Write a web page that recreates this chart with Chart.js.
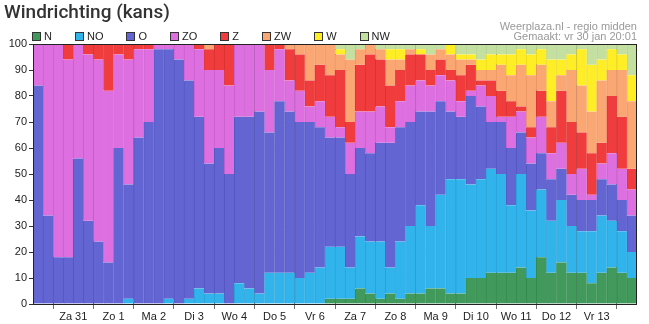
<!DOCTYPE html>
<html>
<head>
<meta charset="utf-8">
<script src="https://cdn.jsdelivr.net/npm/chart.js@4.4.1/dist/chart.umd.min.js"></script>
<style>
  html, body { margin: 0; padding: 0; background: #fff; }
  #wrap { position: relative; width: 649px; height: 324px; font-family: "Liberation Sans", Arial, sans-serif; }
  #title { position: absolute; left: 4px; top: 2px; font: 500 19px/19px Roboto, sans-serif; color: #333; white-space: nowrap; }
  #legend { position: absolute; left: 32px; top: 31px; height: 11px; display: flex; align-items: center; }
  #legend .item { display: flex; align-items: center; margin-right: 23px; font-size: 11px; line-height: 11px; color: #222; }
  #legend .box { width: 9px; height: 9px; box-sizing: border-box; border: 1px solid #333; margin-right: 3px; }
  #credits { position: absolute; right: 12px; top: 21px; text-align: right; font-size: 11px; line-height: 10px; color: #999; }
  #chart { position: absolute; left: 0; top: 0; }
</style>
</head>
<body>
<div id="wrap">
  <canvas id="chart" width="649" height="324"></canvas>
  <div id="title">Windrichting (kans)</div>
  <div id="legend"></div>
  <div id="credits">Weerplaza.nl - regio midden<br>Gemaakt: vr 30 jan 20:01</div>
</div>
<script>
// kans per windrichting (%), 6-uurlijks, vanaf vr 30 jan
const N  = [0,0,0,0,0,0,0,0,0,0, 0,0,0,0,0,0,0,0,0,0, 0,0,0,0,0,0,0,0,0,2, 2,2,6,4,2,4,2,4,4,6, 6,4,4,10,10,12,12,12,14,10, 18,12,16,12,12,8,12,14,12,10];
const NO = [0,0,0,0,0,0,0,0,0,2, 0,0,0,2,0,2,6,4,4,0, 8,6,4,12,12,12,10,12,14,20, 20,12,20,20,22,10,22,26,34,24, 36,44,44,36,38,40,38,26,36,26, 26,20,24,18,16,20,22,18,16,10];
const O  = [84,34,18,18,56,32,24,16,60,44, 64,70,98,96,94,84,66,50,56,50, 64,66,70,54,66,62,60,58,54,42, 42,36,34,34,38,48,44,40,36,44, 36,26,24,34,28,18,20,22,16,18, 14,16,12,12,12,12,14,14,12,14];
const ZO = [16,66,82,76,44,64,70,66,36,48, 34,28,2,2,6,14,26,36,30,34, 28,28,26,24,20,12,12,6,10,8, 4,12,14,16,14,6,10,14,12,10, 10,12,6,2,8,10,2,12,8,10, 14,10,10,8,12,2,6,12,12,10];
const Z  = [0,0,0,6,0,4,6,18,4,6, 2,2,0,0,0,0,2,8,10,16, 0,0,0,10,2,12,14,10,14,16, 22,8,18,22,18,16,12,12,10,6, 6,4,10,10,2,6,10,6,2,4, 10,10,20,20,14,16,8,22,20,8];
const ZW = [0,0,0,0,0,0,0,0,0,0, 0,0,0,0,0,0,0,2,0,0, 0,0,0,0,0,2,4,14,8,12, 6,24,6,4,4,10,4,2,0,6, 4,6,6,2,4,4,10,10,16,20, 10,10,6,20,18,16,24,10,18,26];
const W  = [0,0,0,0,0,0,0,0,0,0, 0,0,0,0,0,0,0,0,0,0, 0,0,0,0,0,0,0,0,0,0, 2,0,0,0,0,4,4,0,2,0, 0,4,2,2,4,6,4,8,6,8, 6,16,6,6,14,18,8,8,6,10];
const NW = [0,0,0,0,0,0,0,0,0,0, 0,0,0,0,0,0,0,0,0,0, 0,0,0,0,0,0,0,0,0,0, 2,6,2,0,2,2,2,2,2,4, 2,0,4,4,6,4,4,4,2,4, 2,6,6,4,2,8,6,2,4,12];

const directions = ['N', 'NO', 'O', 'ZO', 'Z', 'ZW', 'W', 'NW'];
const seriesValues = [N, NO, O, ZO, Z, ZW, W, NW];
const dayLabels = ['Za 31', 'Zo 1', 'Ma 2', 'Di 3', 'Wo 4', 'Do 5', 'Vr 6', 'Za 7', 'Zo 8', 'Ma 9', 'Di 10', 'Wo 11', 'Do 12', 'Vr 13'];
const yTicks = [0, 10, 20, 30, 40, 50, 60, 70, 80, 90, 100];

const fills   = ['#419a5b', '#31b4ec', '#6365d3', '#de6fe0', '#f03c3c', '#fba774', '#ffee26', '#c3e0a0'];
const borders = ['#378a4f', '#2aa2d6', '#5557c2', '#cc5fce', '#dc3232', '#ec9865', '#ecdb1c', '#b2d090'];

const nBars = N.length;
const firstDay = 2;     // eerste twee balken horen bij vr 30
const perDay = 4;

// tick posities: daggrenzen (lijnen) en dagmiddens (labels)
const xTicks = [];
for (let v = firstDay; v <= nBars; v += perDay / 2) xTicks.push(v);
const isBoundary = v => (v - firstDay) % perDay === 0;

// legenda
const legendEl = document.getElementById('legend');
directions.forEach((d, i) => {
  const item = document.createElement('div');
  item.className = 'item';
  item.innerHTML = '<span class="box" style="background:' + fills[i] + '"></span>' + d;
  legendEl.appendChild(item);
});

const frame = {
  id: 'frame',
  afterDraw(chart) {
    const a = chart.chartArea, c = chart.ctx;
    c.save();
    c.strokeStyle = '#222';
    c.lineWidth = 1;
    c.strokeRect(a.left + 0.5, a.top + 0.5, a.right - a.left - 1, a.bottom - a.top);
    c.restore();
  }
};

Chart.defaults.font.family = '"Liberation Sans", Arial, sans-serif';
Chart.defaults.font.size = 11;
Chart.defaults.color = '#222';

new Chart(document.getElementById('chart'), {
  type: 'bar',
  data: {
    datasets: directions.map((d, i) => ({
      label: d,
      data: seriesValues[i].map((v, j) => ({ x: j + 0.5, y: v })),
      backgroundColor: fills[i],
      borderColor: borders[i],
      borderWidth: { left: 1, right: 0, top: 0, bottom: 0 },
      borderSkipped: false,
      barPercentage: 1,
      categoryPercentage: 1
    }))
  },
  options: {
    responsive: false,
    animation: false,
    layout: { padding: { left: 0, right: 12, top: 44, bottom: 0 } },
    plugins: { legend: { display: false }, tooltip: { enabled: false }, title: { display: false } },
    scales: {
      x: {
        type: 'linear',
        stacked: true,
        min: 0,
        max: nBars,
        offset: false,
        z: 1,
        border: { display: false },
        grid: {
          offset: false,
          color: ctx => (ctx.tick && isBoundary(ctx.tick.value)) ? '#6e6e6e' : 'rgba(0,0,0,0)',
          tickColor: ctx => (ctx.tick && isBoundary(ctx.tick.value)) ? '#6e6e6e' : 'rgba(0,0,0,0)',
          tickLength: 5
        },
        afterBuildTicks: s => { s.ticks = xTicks.map(v => ({ value: v })); },
        afterFit: s => { s.height = 20; },
        ticks: {
          autoSkip: false,
          maxRotation: 0,
          padding: 1,
          color: '#222',
          callback: v => isBoundary(v) ? '' : dayLabels[(v - firstDay - perDay / 2) / perDay]
        }
      },
      y: {
        stacked: true,
        min: 0,
        max: 100,
        z: 1,
        border: { display: false },
        grid: { color: 'rgba(0,0,0,0.09)', tickColor: '#333', tickLength: 4 },
        afterBuildTicks: s => { s.ticks = yTicks.map(v => ({ value: v })); },
        afterFit: s => { s.width = 33; },
        ticks: { padding: 2, color: '#222' }
      }
    }
  },
  plugins: [frame]
});
</script>
</body>
</html>
